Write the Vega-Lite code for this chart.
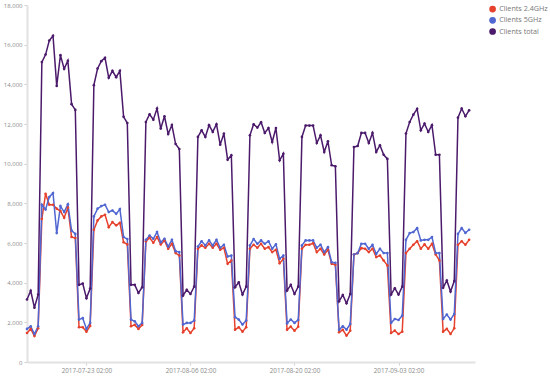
{
  "$schema": "https://vega.github.io/schema/vega-lite/v6.json",
  "width": 448,
  "height": 357,
  "autosize": {"type": "none"},
  "padding": {"left": 27, "top": 5, "right": 75, "bottom": 15},
  "background": "white",
  "config": {
    "view": {"stroke": null},
    "font": "Open Sans",
    "axis": {"labelFont": "Open Sans", "labelColor": "#8a8a8a", "labelFontSize": 6.3, "grid": false, "domainColor": "#e2e2e2", "domainWidth": 2, "tickColor": "#cfcfcf", "tickSize": 3, "title": null}
  },
  "data": {
    "values": [
      {"t": "2017-07-15T02:00Z", "a": 1460, "b": 1670, "c": 3150},
      {"t": "2017-07-15T14:00Z", "a": 1670, "b": 1800, "c": 3590},
      {"t": "2017-07-16T02:00Z", "a": 1310, "b": 1410, "c": 2740},
      {"t": "2017-07-16T14:00Z", "a": 1700, "b": 1800, "c": 3400},
      {"t": "2017-07-17T02:00Z", "a": 7220, "b": 7930, "c": 15120},
      {"t": "2017-07-17T14:00Z", "a": 8480, "b": 7690, "c": 15500},
      {"t": "2017-07-18T02:00Z", "a": 7930, "b": 8320, "c": 16210},
      {"t": "2017-07-18T14:00Z", "a": 7930, "b": 8520, "c": 16450},
      {"t": "2017-07-19T02:00Z", "a": 7730, "b": 6500, "c": 13920},
      {"t": "2017-07-19T14:00Z", "a": 7610, "b": 7860, "c": 15470},
      {"t": "2017-07-20T02:00Z", "a": 7270, "b": 7560, "c": 14780},
      {"t": "2017-07-20T14:00Z", "a": 7780, "b": 7950, "c": 15190},
      {"t": "2017-07-21T02:00Z", "a": 6300, "b": 6630, "c": 13000},
      {"t": "2017-07-21T14:00Z", "a": 6250, "b": 6460, "c": 12710},
      {"t": "2017-07-22T02:00Z", "a": 1750, "b": 2140, "c": 3890},
      {"t": "2017-07-22T14:00Z", "a": 1750, "b": 2210, "c": 3960},
      {"t": "2017-07-23T02:00Z", "a": 1530, "b": 1670, "c": 3220},
      {"t": "2017-07-23T14:00Z", "a": 1820, "b": 1970, "c": 3700},
      {"t": "2017-07-24T02:00Z", "a": 6670, "b": 7340, "c": 13960},
      {"t": "2017-07-24T14:00Z", "a": 7140, "b": 7730, "c": 14800},
      {"t": "2017-07-25T02:00Z", "a": 7340, "b": 7860, "c": 15170},
      {"t": "2017-07-25T14:00Z", "a": 7420, "b": 7930, "c": 15340},
      {"t": "2017-07-26T02:00Z", "a": 6800, "b": 7560, "c": 14330},
      {"t": "2017-07-26T14:00Z", "a": 7050, "b": 7640, "c": 14680},
      {"t": "2017-07-27T02:00Z", "a": 6890, "b": 7470, "c": 14360},
      {"t": "2017-07-27T14:00Z", "a": 7020, "b": 7710, "c": 14680},
      {"t": "2017-07-28T02:00Z", "a": 6040, "b": 6300, "c": 12360},
      {"t": "2017-07-28T14:00Z", "a": 5930, "b": 6200, "c": 12050},
      {"t": "2017-07-29T02:00Z", "a": 1800, "b": 2140, "c": 3890},
      {"t": "2017-07-29T14:00Z", "a": 1870, "b": 2050, "c": 3890},
      {"t": "2017-07-30T02:00Z", "a": 1670, "b": 1800, "c": 3480},
      {"t": "2017-07-30T14:00Z", "a": 1870, "b": 1970, "c": 3770},
      {"t": "2017-07-31T02:00Z", "a": 6090, "b": 6160, "c": 12100},
      {"t": "2017-07-31T14:00Z", "a": 6260, "b": 6380, "c": 12490},
      {"t": "2017-08-01T02:00Z", "a": 6010, "b": 6210, "c": 12220},
      {"t": "2017-08-01T14:00Z", "a": 6300, "b": 6550, "c": 12780},
      {"t": "2017-08-02T02:00Z", "a": 5930, "b": 6040, "c": 11770},
      {"t": "2017-08-02T14:00Z", "a": 6130, "b": 6210, "c": 12390},
      {"t": "2017-08-03T02:00Z", "a": 5710, "b": 5820, "c": 11500},
      {"t": "2017-08-03T14:00Z", "a": 5960, "b": 6160, "c": 11950},
      {"t": "2017-08-04T02:00Z", "a": 5490, "b": 5590, "c": 10990},
      {"t": "2017-08-04T14:00Z", "a": 5370, "b": 5540, "c": 10740},
      {"t": "2017-08-05T02:00Z", "a": 1500, "b": 1890, "c": 3350},
      {"t": "2017-08-05T14:00Z", "a": 1700, "b": 1970, "c": 3640},
      {"t": "2017-08-06T02:00Z", "a": 1460, "b": 1970, "c": 3430},
      {"t": "2017-08-06T14:00Z", "a": 1700, "b": 2090, "c": 3800},
      {"t": "2017-08-07T02:00Z", "a": 5710, "b": 5820, "c": 11350},
      {"t": "2017-08-07T14:00Z", "a": 5880, "b": 6090, "c": 11680},
      {"t": "2017-08-08T02:00Z", "a": 5760, "b": 5880, "c": 11350},
      {"t": "2017-08-08T14:00Z", "a": 5960, "b": 6130, "c": 11940},
      {"t": "2017-08-09T02:00Z", "a": 5760, "b": 5880, "c": 11600},
      {"t": "2017-08-09T14:00Z", "a": 5960, "b": 6160, "c": 11990},
      {"t": "2017-08-10T02:00Z", "a": 5660, "b": 5760, "c": 10960},
      {"t": "2017-08-10T14:00Z", "a": 5760, "b": 5910, "c": 11520},
      {"t": "2017-08-11T02:00Z", "a": 4950, "b": 5320, "c": 10200},
      {"t": "2017-08-11T14:00Z", "a": 5120, "b": 5370, "c": 10420},
      {"t": "2017-08-12T02:00Z", "a": 1630, "b": 2260, "c": 3770},
      {"t": "2017-08-12T14:00Z", "a": 1750, "b": 2140, "c": 4020},
      {"t": "2017-08-13T02:00Z", "a": 1530, "b": 1890, "c": 3400},
      {"t": "2017-08-13T14:00Z", "a": 1750, "b": 2090, "c": 3800},
      {"t": "2017-08-14T02:00Z", "a": 5710, "b": 5880, "c": 11430},
      {"t": "2017-08-14T14:00Z", "a": 5910, "b": 6200, "c": 11990},
      {"t": "2017-08-15T02:00Z", "a": 5760, "b": 5960, "c": 11820},
      {"t": "2017-08-15T14:00Z", "a": 5960, "b": 6130, "c": 12090},
      {"t": "2017-08-16T02:00Z", "a": 5710, "b": 5960, "c": 11550},
      {"t": "2017-08-16T14:00Z", "a": 5790, "b": 6090, "c": 11800},
      {"t": "2017-08-17T02:00Z", "a": 5540, "b": 5710, "c": 11090},
      {"t": "2017-08-17T14:00Z", "a": 5660, "b": 5930, "c": 11800},
      {"t": "2017-08-18T02:00Z", "a": 4980, "b": 5200, "c": 10170},
      {"t": "2017-08-18T14:00Z", "a": 5200, "b": 5370, "c": 10500},
      {"t": "2017-08-19T02:00Z", "a": 1630, "b": 1950, "c": 3600},
      {"t": "2017-08-19T14:00Z", "a": 1780, "b": 2140, "c": 3890},
      {"t": "2017-08-20T02:00Z", "a": 1580, "b": 1970, "c": 3430},
      {"t": "2017-08-20T14:00Z", "a": 1780, "b": 2120, "c": 3800},
      {"t": "2017-08-21T02:00Z", "a": 5710, "b": 5880, "c": 11350},
      {"t": "2017-08-21T14:00Z", "a": 5910, "b": 6130, "c": 11920},
      {"t": "2017-08-22T02:00Z", "a": 5910, "b": 6130, "c": 11920},
      {"t": "2017-08-22T14:00Z", "a": 5990, "b": 6130, "c": 11920},
      {"t": "2017-08-23T02:00Z", "a": 5540, "b": 5760, "c": 11040},
      {"t": "2017-08-23T14:00Z", "a": 5710, "b": 5910, "c": 11430},
      {"t": "2017-08-24T02:00Z", "a": 5420, "b": 5540, "c": 10590},
      {"t": "2017-08-24T14:00Z", "a": 5660, "b": 5790, "c": 11130},
      {"t": "2017-08-25T02:00Z", "a": 4950, "b": 5030, "c": 9920},
      {"t": "2017-08-25T14:00Z", "a": 4900, "b": 5000, "c": 9870},
      {"t": "2017-08-26T02:00Z", "a": 1500, "b": 1620, "c": 3060},
      {"t": "2017-08-26T14:00Z", "a": 1620, "b": 1800, "c": 3380},
      {"t": "2017-08-27T02:00Z", "a": 1330, "b": 1630, "c": 2960},
      {"t": "2017-08-27T14:00Z", "a": 1580, "b": 1920, "c": 3430},
      {"t": "2017-08-28T02:00Z", "a": 5420, "b": 5420, "c": 10840},
      {"t": "2017-08-28T14:00Z", "a": 5490, "b": 5490, "c": 10890},
      {"t": "2017-08-29T02:00Z", "a": 5740, "b": 5960, "c": 11550},
      {"t": "2017-08-29T14:00Z", "a": 5710, "b": 5960, "c": 11550},
      {"t": "2017-08-30T02:00Z", "a": 5540, "b": 5710, "c": 11040},
      {"t": "2017-08-30T14:00Z", "a": 5710, "b": 5910, "c": 11550},
      {"t": "2017-08-31T02:00Z", "a": 5290, "b": 5450, "c": 10590},
      {"t": "2017-08-31T14:00Z", "a": 5370, "b": 5710, "c": 10930},
      {"t": "2017-09-01T02:00Z", "a": 5120, "b": 5490, "c": 10450},
      {"t": "2017-09-01T14:00Z", "a": 4870, "b": 5490, "c": 10240},
      {"t": "2017-09-02T02:00Z", "a": 1460, "b": 1970, "c": 3400},
      {"t": "2017-09-02T14:00Z", "a": 1580, "b": 2170, "c": 3720},
      {"t": "2017-09-03T02:00Z", "a": 1410, "b": 2120, "c": 3400},
      {"t": "2017-09-03T14:00Z", "a": 1530, "b": 2340, "c": 3800},
      {"t": "2017-09-04T02:00Z", "a": 5490, "b": 6160, "c": 11520},
      {"t": "2017-09-04T14:00Z", "a": 5710, "b": 6500, "c": 12100},
      {"t": "2017-09-05T02:00Z", "a": 5910, "b": 6550, "c": 12470},
      {"t": "2017-09-05T14:00Z", "a": 6090, "b": 6750, "c": 12760},
      {"t": "2017-09-06T02:00Z", "a": 5710, "b": 6130, "c": 11680},
      {"t": "2017-09-06T14:00Z", "a": 5930, "b": 6160, "c": 12020},
      {"t": "2017-09-07T02:00Z", "a": 5710, "b": 6160, "c": 11600},
      {"t": "2017-09-07T14:00Z", "a": 5960, "b": 6300, "c": 11940},
      {"t": "2017-09-08T02:00Z", "a": 5420, "b": 5490, "c": 10450},
      {"t": "2017-09-08T14:00Z", "a": 5120, "b": 5490, "c": 10450},
      {"t": "2017-09-09T02:00Z", "a": 1530, "b": 2170, "c": 3740},
      {"t": "2017-09-09T14:00Z", "a": 1670, "b": 2390, "c": 4110},
      {"t": "2017-09-10T02:00Z", "a": 1410, "b": 2140, "c": 3550},
      {"t": "2017-09-10T14:00Z", "a": 1700, "b": 2420, "c": 4080},
      {"t": "2017-09-11T02:00Z", "a": 5910, "b": 6460, "c": 12320},
      {"t": "2017-09-11T14:00Z", "a": 6090, "b": 6750, "c": 12780},
      {"t": "2017-09-12T02:00Z", "a": 5910, "b": 6510, "c": 12390},
      {"t": "2017-09-12T14:00Z", "a": 6160, "b": 6670, "c": 12690}
    ]
  },
  "transform": [
    {"fold": ["a", "b", "c"], "as": ["key", "value"]},
    {"lookup": "key", "from": {"data": {"values": [
      {"key": "a", "series": "Clients 2.4GHz"},
      {"key": "b", "series": "Clients 5GHz"},
      {"key": "c", "series": "Clients total"}
    ]}, "key": "key", "fields": ["series"]}}
  ],
  "mark": {"type": "line", "strokeWidth": 1.5, "point": {"filled": true, "size": 7}},
  "encoding": {
    "x": {
      "field": "t", "type": "temporal",
      "scale": {"type": "utc", "domain": [
        {"year": 2017, "month": 7, "date": 15, "hours": 2, "utc": true},
        {"year": 2017, "month": 9, "date": 13, "hours": 9, "utc": true}
      ]},
      "axis": {
        "format": "%Y-%m-%d %H:%M",
        "values": [
          {"year": 2017, "month": 7, "date": 23, "hours": 2, "utc": true},
          {"year": 2017, "month": 8, "date": 6, "hours": 2, "utc": true},
          {"year": 2017, "month": 8, "date": 20, "hours": 2, "utc": true},
          {"year": 2017, "month": 9, "date": 3, "hours": 2, "utc": true}
        ],
        "labelPadding": 2
      }
    },
    "y": {
      "field": "value", "type": "quantitative",
      "scale": {"domain": [0, 18000], "nice": false},
      "axis": {"values": [0, 2000, 4000, 6000, 8000, 10000, 12000, 14000, 16000, 18000], "format": ",.0f", "labelPadding": 2, "labelFontSize": 6}
    },
    "color": {
      "field": "series", "type": "nominal",
      "scale": {"domain": ["Clients 2.4GHz", "Clients 5GHz", "Clients total"], "range": ["#e5412d", "#5066d1", "#4b1a6b"]},
      "legend": {
        "title": null, "orient": "none", "legendX": 462, "legendY": 0.5,
        "symbolType": "circle", "symbolSize": 45, "symbolStrokeWidth": 0,
        "labelFont": "Open Sans", "labelFontSize": 7.2, "labelColor": "#777777",
        "rowPadding": 3.2, "labelOffset": 3, "padding": 0
      }
    }
  }
}
